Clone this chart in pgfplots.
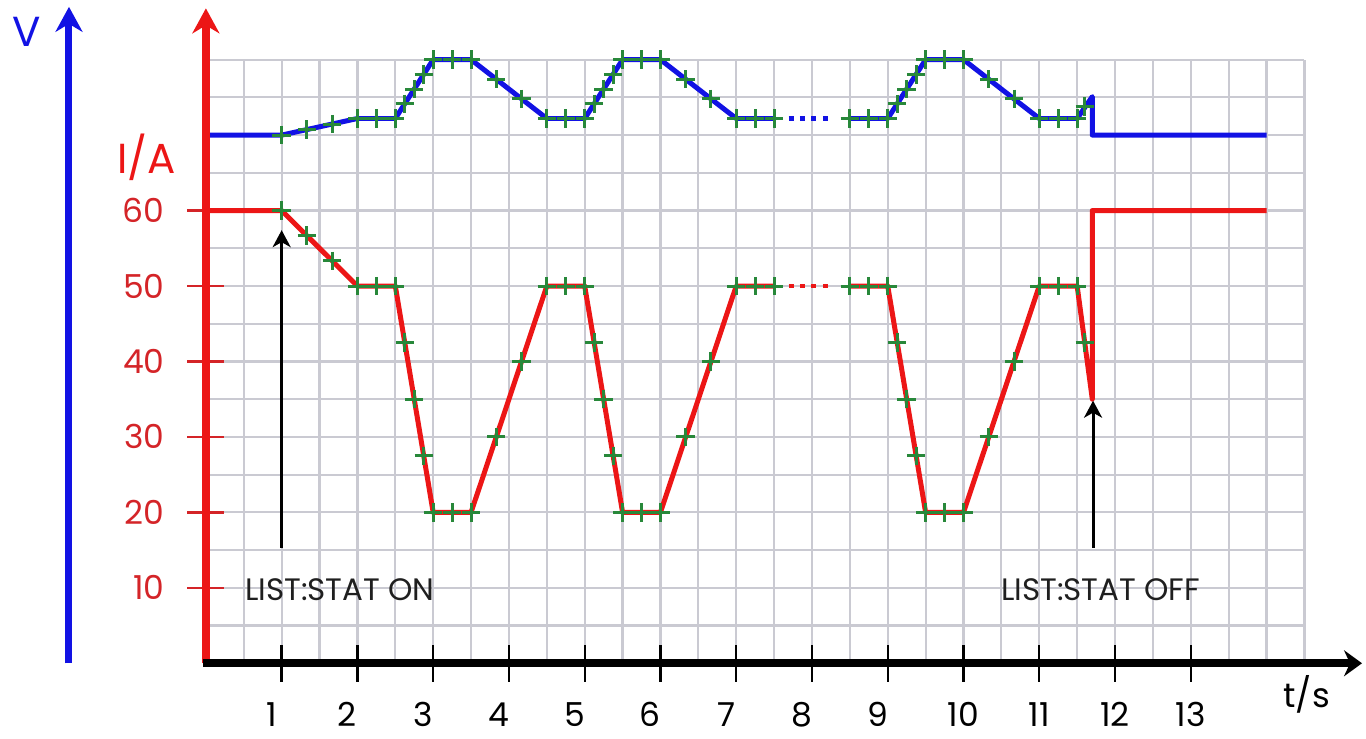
\documentclass[border=0pt]{standalone}
\usepackage{fontspec}
\setmainfont{Poppins}
\usepackage{pgfplots}
\pgfplotsset{compat=1.18}
\usetikzlibrary{arrows.meta}
\definecolor{axred}{RGB}{236,22,22}
\definecolor{lblred}{RGB}{212,36,40}
\definecolor{axblue}{RGB}{18,18,228}
\definecolor{mkgreen}{RGB}{40,136,58}
\definecolor{gridgray}{RGB}{202,202,210}
\begin{document}
\begin{tikzpicture}
\begin{axis}[
  scale only axis, width=549.6pt, height=302pt,
  xmin=0, xmax=14.5, ymin=0, ymax=80,
  clip=false,
  axis line style={draw=none},
  xtick={1,...,13},
  xticklabels={{\kern-10pt 1},{\kern-10pt 2},{\kern-10pt 3},{\kern-10pt 4},{\kern-10pt 5},{\kern-10pt 6},{\kern-10pt 7},{\kern-10pt 8},{\kern-10pt 9},10,11,12,13},
  ytick={10,20,...,60},
  minor xtick={0,0.5,...,14.5},
  minor ytick={0,5,...,80},
  grid=minor,
  minor grid style={gridgray, line width=1.1pt},
  minor tick length=0pt,
  major tick length=18.5pt,
  tick align=center,
  xtick pos=bottom, ytick pos=left,
  major x tick style={black, line width=1.2pt},
  major y tick style={lblred, line width=1.2pt},
  xticklabel style={font=\fontsize{16.5}{19}\selectfont, text=black, anchor=base, inner sep=0pt, yshift=-22.5pt},
  yticklabel style={font=\fontsize{16.5}{20}\selectfont, text=lblred, anchor=east, inner sep=0pt, xshift=-11.25pt},
  /pgf/number format/assume math mode=true,
]
% frame of the picture
\path (axis cs:-2.7177,-9.97) rectangle (axis cs:15.303,87.907);

% current (red)
\addplot[axred, line width=2.5pt, line join=round] coordinates {
(0,60) (1,60) (2,50) (2.5,50) (3,20) (3.5,20) (4.5,50) (5,50) (5.5,20) (6,20) (7,50) (7.5,50)};
\addplot[axred, line width=2.5pt, line join=round] coordinates {
(8.5,50) (9,50) (9.5,20) (10,20) (11,50) (11.5,50) (11.7,35) (11.7,60) (14,60)};
\addplot[axred, line width=2.2pt, dash pattern=on 2.5pt off 3.25pt] coordinates {(7.69,50) (8.21,50)};

% voltage (blue)
\addplot[axblue, line width=2.5pt, line join=round] coordinates {
(0,70) (1,70) (2,72.2) (2.5,72.2) (3,80) (3.5,80) (4.5,72.2) (5,72.2) (5.5,80) (6,80) (7,72.2) (7.5,72.2)};
\addplot[axblue, line width=2.5pt, line join=round] coordinates {
(8.5,72.2) (9,72.2) (9.5,80) (10,80) (11,72.2) (11.5,72.2) (11.7,75.1) (11.7,70) (14,70)};
\addplot[axblue, line width=2.2pt, dash pattern=on 2.5pt off 3.25pt] coordinates {(7.69,72.2) (8.21,72.2)};

% list step markers
\addplot[only marks, mark=+, mark size=4.6pt, mkgreen, line width=1.5pt] coordinates {
(1,60) (1.333,56.67) (1.667,53.33) (2,50) (2.25,50) (2.5,50)
(2.625,42.5) (2.75,35) (2.875,27.5) (3,20) (3.25,20) (3.5,20)
(3.833,30) (4.167,40) (4.5,50) (4.75,50) (5,50)
(5.125,42.5) (5.25,35) (5.375,27.5) (5.5,20) (5.75,20) (6,20)
(6.333,30) (6.667,40) (7,50) (7.25,50) (7.5,50)
(8.5,50) (8.75,50) (9,50) (9.125,42.5) (9.25,35) (9.375,27.5)
(9.5,20) (9.75,20) (10,20) (10.333,30) (10.667,40)
(11,50) (11.25,50) (11.5,50) (11.6,42.5)};
\addplot[only marks, mark=+, mark size=4.6pt, mkgreen, line width=1.5pt] coordinates {
(1,70) (1.333,70.73) (1.667,71.47) (2,72.2) (2.25,72.2) (2.5,72.2)
(2.625,74.15) (2.75,76.1) (2.875,78.05) (3,80) (3.25,80) (3.5,80)
(3.833,77.4) (4.167,74.8) (4.5,72.2) (4.75,72.2) (5,72.2)
(5.125,74.15) (5.25,76.1) (5.375,78.05) (5.5,80) (5.75,80) (6,80)
(6.333,77.4) (6.667,74.8) (7,72.2) (7.25,72.2) (7.5,72.2)
(8.5,72.2) (8.75,72.2) (9,72.2) (9.125,74.15) (9.25,76.1) (9.375,78.05)
(9.5,80) (9.75,80) (10,80) (10.333,77.4) (10.667,74.8)
(11,72.2) (11.25,72.2) (11.5,72.2) (11.6,73.8)};

% axes
\draw[axblue, line width=3.5pt, -{Stealth[length=12.5pt,width=13.5pt,inset=4pt]}] (axis cs:-1.807,0) -- (axis cs:-1.807,87.0);
\draw[axred, line width=4pt, -{Stealth[length=12.5pt,width=13.5pt,inset=4pt]}] (axis cs:0,0) -- (axis cs:0,86.8);
\draw[black, line width=4pt, -{Stealth[length=9pt,width=13pt,inset=3pt]}] (axis cs:-0.04,0) -- (axis cs:15.26,0);

% annotation arrows
\draw[black, line width=1.5pt, -{Stealth[length=8.5pt,width=9pt,inset=2.5pt]}] (axis cs:1,15.3) -- (axis cs:1,57.4);
\draw[black, line width=1.5pt, -{Stealth[length=8.5pt,width=9pt,inset=2.5pt]}] (axis cs:11.71,15.3) -- (axis cs:11.71,34.8);

% labels
\node[text=axblue, font=\fontsize{21}{24}\selectfont] at (axis cs:-2.36,83.7) {V};
\node[text=axred, font=\fontsize{21}{24}\selectfont] at (axis cs:-0.778,67.1) {I/A};
\node[text=black, font=\fontsize{17}{20}\selectfont] at (axis cs:14.53,-4.15) {t/s};
\node[text=black!88, font=\fontsize{15.5}{18}\selectfont] at (axis cs:1.77,9.8) {LIST:STAT ON};
\node[text=black!88, font=\fontsize{15.5}{18}\selectfont] at (axis cs:11.81,9.8) {LIST:STAT OFF};
\end{axis}
\end{tikzpicture}
\end{document}
